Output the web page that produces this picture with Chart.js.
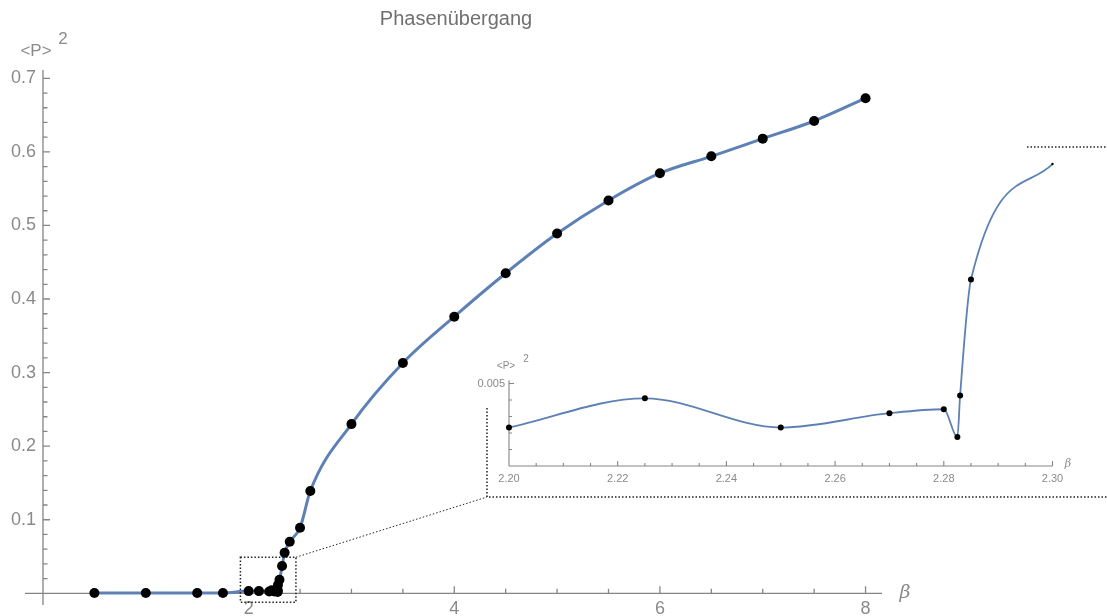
<!DOCTYPE html>
<html>
<head>
<meta charset="utf-8">
<script src="https://cdn.jsdelivr.net/npm/chart.js@4/dist/chart.umd.min.js"></script>
<style>
html, body { margin: 0; padding: 0; background: #fff; }
#wrap { position: relative; width: 1107px; height: 616px; }
#wrap canvas { position: absolute; left: 0; top: 0; }
</style>
</head>
<body>
<div id="wrap">
  <canvas id="mainChart" width="1107" height="616"></canvas>
  <canvas id="insetChart" width="1107" height="616"></canvas>
</div>
<script>
// data
var betas = [0.5, 1.0, 1.5, 1.75, 2.0, 2.1, 2.2, 2.225, 2.25, 2.27, 2.28, 2.2825, 2.283, 2.285, 2.3,
             2.325, 2.35, 2.4, 2.5, 2.6, 3.0, 3.5, 4.0, 4.5, 5.0, 5.5, 6.0, 6.5, 7.0, 7.5, 8.0];
var p2 = [0.0005, 0.0005, 0.0005, 0.0005, 0.003, 0.003, 0.00233, 0.0041, 0.00233, 0.0032, 0.00344, 0.00175, 0.00427, 0.0113, 0.0183,
          0.037, 0.055, 0.070, 0.089, 0.139, 0.230, 0.313, 0.376, 0.435, 0.489, 0.534, 0.571, 0.594, 0.618, 0.642, 0.673];

var xTicks = [2, 4, 6, 8];
var yTicks = [0.1, 0.2, 0.3, 0.4, 0.5, 0.6, 0.7];
var insetXTicks = [2.20, 2.22, 2.24, 2.26, 2.28, 2.30];
var insetYTicks = [0.005];

var insetFrom = 2.20, insetTo = 2.30;

var lineBlue = "#5e81b5";
var axisGray = "#858585";
var textGray = "#8a8a8a";

function points(lo, hi) {
    var out = [];
    for (var i = 0; i < betas.length; i++) {
        if (betas[i] >= lo && betas[i] <= hi) out.push({x: betas[i], y: p2[i]});
    }
    return out;
}

function range(a, b, step) {
    var out = [];
    for (var v = a; v <= b + step / 1000; v += step) out.push(Math.round(v * 100000) / 100000);
    return out;
}

// Mathematica style axes through the origin, ticks pointing inward
function axesPlugin(cfg) {
    return {
        id: "axes",
        beforeDatasetsDraw: function(chart) {
            var ctx = chart.ctx, xs = chart.scales.x, ys = chart.scales.y;
            var x0 = xs.getPixelForValue(cfg.xOrigin), y0 = ys.getPixelForValue(cfg.yOrigin);
            var xl = xs.getPixelForValue(cfg.xLine[0]), xr = xs.getPixelForValue(cfg.xLine[1]);
            var yb = ys.getPixelForValue(cfg.yLine[0]), yt = ys.getPixelForValue(cfg.yLine[1]);
            ctx.save();
            ctx.strokeStyle = axisGray;
            ctx.lineWidth = cfg.width;
            ctx.beginPath();
            ctx.moveTo(xl, y0); ctx.lineTo(xr, y0);
            ctx.moveTo(x0, yb); ctx.lineTo(x0, yt);
            cfg.xMinor.forEach(function(v) {
                var p = xs.getPixelForValue(v);
                var len = cfg.xMajor.some(function(m) { return Math.abs(m - v) < 1e-6; }) ? cfg.major : cfg.minor;
                ctx.moveTo(p, y0); ctx.lineTo(p, y0 - len);
            });
            cfg.yMinor.forEach(function(v) {
                var p = ys.getPixelForValue(v);
                var len = cfg.yMajor.some(function(m) { return Math.abs(m - v) < 1e-7; }) ? cfg.major : cfg.minor;
                ctx.moveTo(x0, p); ctx.lineTo(x0 + len, p);
            });
            ctx.stroke();

            ctx.fillStyle = textGray;
            ctx.font = cfg.font;
            ctx.textAlign = "center";
            ctx.textBaseline = "middle";
            cfg.xMajor.forEach(function(v) {
                ctx.fillText(cfg.xFmt(v), xs.getPixelForValue(v), y0 + cfg.xLabelGap);
            });
            ctx.textAlign = "right";
            cfg.yMajor.forEach(function(v) {
                ctx.fillText(cfg.yFmt(v), x0 - cfg.yLabelGap, ys.getPixelForValue(v));
            });
            ctx.restore();
        }
    };
}

var decorPlugin = {
    id: "decor",
    afterDraw: function(chart) {
        var ctx = chart.ctx, xs = chart.scales.x, ys = chart.scales.y;
        ctx.save();
        // title and axis labels
        ctx.fillStyle = "#707070";
        ctx.font = "20px 'Liberation Sans', Arial, sans-serif";
        ctx.textAlign = "center";
        ctx.textBaseline = "middle";
        ctx.fillText("Phasen\u00fcbergang", 456, 19);
        ctx.fillStyle = textGray;
        ctx.font = "17px 'Liberation Sans', Arial, sans-serif";
        ctx.fillText("<P>", 36, 51);
        ctx.fillText("2", 63, 39);
        ctx.font = "italic 19px 'DejaVu Serif', serif";
        ctx.fillText("\u03b2", 905, 593);

        // dotted zoom box and connector
        ctx.strokeStyle = "#222";
        ctx.lineWidth = 1.5;
        ctx.setLineDash([1.5, 2]);
        var bx1 = xs.getPixelForValue(1.92), bx2 = xs.getPixelForValue(2.46);
        var by1 = ys.getPixelForValue(0.049), by2 = ys.getPixelForValue(-0.012);
        ctx.strokeRect(bx1, by1, bx2 - bx1, by2 - by1);
        ctx.lineWidth = 1;
        ctx.beginPath();
        ctx.moveTo(bx2, by1); ctx.lineTo(487, 497);
        ctx.stroke();
        ctx.lineWidth = 1.5;
        ctx.beginPath();
        ctx.moveTo(487, 408); ctx.lineTo(487, 497); ctx.lineTo(1107, 497);
        ctx.moveTo(1027, 147); ctx.lineTo(1107, 147);
        ctx.stroke();
        ctx.restore();
    }
};

var insetLabels = {
    id: "insetLabels",
    afterDraw: function(chart) {
        var ctx = chart.ctx;
        ctx.save();
        ctx.fillStyle = textGray;
        ctx.textAlign = "center";
        ctx.textBaseline = "middle";
        ctx.font = "10px 'Liberation Sans', Arial, sans-serif";
        ctx.fillText("<P>", 506, 366);
        ctx.fillText("2", 526, 359);
        ctx.font = "italic 11px 'DejaVu Serif', serif";
        ctx.fillText("\u03b2", 1068, 464);
        ctx.restore();
    }
};

var mainData = points(0, 10);
var insetData = points(insetFrom, insetTo);

new Chart(document.getElementById("mainChart"), {
    type: "line",
    data: {
        datasets: [{
            data: mainData,
            borderColor: lineBlue,
            borderWidth: 3,
            cubicInterpolationMode: "monotone",
            pointRadius: 5,
            pointBackgroundColor: "#000",
            pointBorderWidth: 0,
            clip: false
        }]
    },
    options: {
        responsive: false,
        animation: false,
        layout: { padding: { left: 25, right: 225, top: 70, bottom: 11 } },
        plugins: { legend: { display: false }, tooltip: { enabled: false } },
        scales: {
            x: { type: "linear", display: false, min: -0.175, max: 8.16 },
            y: { type: "linear", display: false, min: -0.0159, max: 0.7113 }
        }
    },
    plugins: [axesPlugin({
        xOrigin: 0, yOrigin: 0,
        xLine: [-0.175, 8.16], yLine: [-0.0159, 0.7113],
        xMajor: xTicks, yMajor: yTicks,
        xMinor: range(0.5, 8, 0.5), yMinor: range(0.02, 0.7, 0.02),
        major: 7, minor: 4.5, width: 1.3,
        font: "18px 'Liberation Sans', Arial, sans-serif",
        xLabelGap: 16, yLabelGap: 7,
        xFmt: function(v) { return String(v); },
        yFmt: function(v) { return v.toFixed(1); }
    }), decorPlugin]
});

new Chart(document.getElementById("insetChart"), {
    type: "line",
    data: {
        datasets: [{
            data: insetData,
            borderColor: lineBlue,
            borderWidth: 1.8,
            cubicInterpolationMode: "monotone",
            pointRadius: insetData.map(function(d) { return d.x >= insetTo - 1e-9 ? 1.2 : 3; }),
            pointBackgroundColor: "#000",
            pointBorderWidth: 0,
            clip: false
        }]
    },
    options: {
        responsive: false,
        animation: false,
        layout: { padding: { left: 509, right: 54.5, top: 150, bottom: 150 } },
        plugins: { legend: { display: false }, tooltip: { enabled: false } },
        scales: {
            x: { type: "linear", display: false, min: insetFrom, max: insetTo },
            y: { type: "linear", display: false, min: 0, max: 0.01915 }
        }
    },
    plugins: [axesPlugin({
        xOrigin: insetFrom, yOrigin: 0,
        xLine: [insetFrom, insetTo], yLine: [0, 0.0052],
        xMajor: insetXTicks, yMajor: insetYTicks,
        xMinor: range(2.20, 2.30, 0.005), yMinor: range(0.001, 0.005, 0.001),
        major: 5, minor: 3, width: 1.1,
        font: "11px 'Liberation Sans', Arial, sans-serif",
        xLabelGap: 13, yLabelGap: 4,
        xFmt: function(v) { return v.toFixed(2); },
        yFmt: function(v) { return v.toFixed(3); }
    }), insetLabels]
});
</script>
</body>
</html>
